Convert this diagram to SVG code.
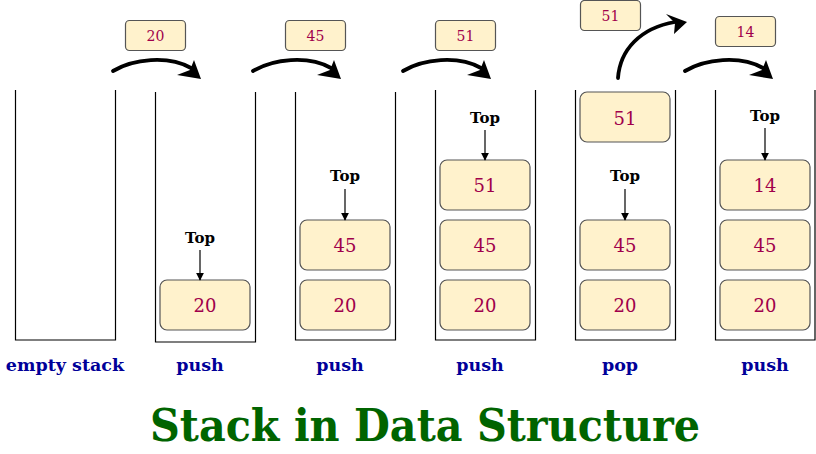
<svg xmlns="http://www.w3.org/2000/svg" width="816" height="454" viewBox="0 0 816 454">
<defs>
<style>
.wall{fill:none;stroke:#000;stroke-width:1.2}
.cell{fill:#fff2cc;stroke:#555;stroke-width:1.2}
.num{font-family:"DejaVu Serif","Liberation Serif",serif;font-size:18px;fill:#a0004b;text-anchor:middle}
.fnum{font-family:"DejaVu Serif","Liberation Serif",serif;font-size:14px;fill:#a0004b;text-anchor:middle}
.top{font-family:"DejaVu Serif","Liberation Serif",serif;font-size:15px;font-weight:bold;fill:#000;text-anchor:middle}
.op{font-family:"DejaVu Serif","Liberation Serif",serif;font-size:17.5px;font-weight:bold;fill:#000099;text-anchor:middle}
.title{font-family:"DejaVu Serif","Liberation Serif",serif;font-size:45px;font-weight:bold;fill:#006400;text-anchor:middle}
.ptr{stroke:#000;stroke-width:1.2;fill:none}
.brush{fill:none;stroke:#000;stroke-width:3.8;stroke-linecap:round}
</style>
<marker id="ah" viewBox="0 0 10 10" refX="9" refY="5" markerWidth="8" markerHeight="8" orient="auto" markerUnits="userSpaceOnUse">
<path d="M0,0 L10,5 L0,10 z" fill="#000"/>
</marker>
<g id="curve">
<path class="brush" d="M0,0 C20,-12 55,-16 78,-3"/>
<polygon points="81,-11 88,8 64,4 77,-1" fill="#000"/>
</g>
</defs>
<rect width="816" height="454" fill="#fff"/>

<g id="stack-empty">
<path class="wall" d="M15.5,90 V340 H115.5 V90"/>
<text class="op" x="65" y="371">empty stack</text>
</g>

<g id="stack-push-20">
<path class="wall" d="M155.5,92 V342 H255.5 V92"/>
<rect class="cell" x="160" y="280" width="90" height="50" rx="7"/>
<text class="num" x="205" y="312">20</text>
<text class="top" x="200" y="243">Top</text>
<line class="ptr" x1="200" y1="250" x2="200" y2="280" marker-end="url(#ah)"/>
<text class="op" x="200" y="371">push</text>
</g>

<g id="stack-push-45">
<path class="wall" d="M295.5,92 V340 H395.5 V92"/>
<rect class="cell" x="300" y="220" width="90" height="50" rx="7"/>
<text class="num" x="345" y="252">45</text>
<rect class="cell" x="300" y="280" width="90" height="50" rx="7"/>
<text class="num" x="345" y="312">20</text>
<text class="top" x="345" y="181">Top</text>
<line class="ptr" x1="345" y1="189" x2="345" y2="220" marker-end="url(#ah)"/>
<text class="op" x="340" y="371">push</text>
</g>

<g id="stack-push-51">
<path class="wall" d="M435.5,90 V340 H535.5 V90"/>
<rect class="cell" x="440" y="160" width="90" height="50" rx="7"/>
<text class="num" x="485" y="192">51</text>
<rect class="cell" x="440" y="220" width="90" height="50" rx="7"/>
<text class="num" x="485" y="252">45</text>
<rect class="cell" x="440" y="280" width="90" height="50" rx="7"/>
<text class="num" x="485" y="312">20</text>
<text class="top" x="485" y="123">Top</text>
<line class="ptr" x1="485" y1="130" x2="485" y2="160" marker-end="url(#ah)"/>
<text class="op" x="480" y="371">push</text>
</g>

<g id="stack-pop">
<path class="wall" d="M575.5,90 V340 H675.5 V90"/>
<rect class="cell" x="580" y="92" width="90" height="50" rx="7"/>
<text class="num" x="625" y="125">51</text>
<rect class="cell" x="580" y="220" width="90" height="50" rx="7"/>
<text class="num" x="625" y="252">45</text>
<rect class="cell" x="580" y="280" width="90" height="50" rx="7"/>
<text class="num" x="625" y="312">20</text>
<text class="top" x="625" y="181">Top</text>
<line class="ptr" x1="625" y1="189" x2="625" y2="220" marker-end="url(#ah)"/>
<text class="op" x="620" y="371">pop</text>
</g>

<g id="stack-push-14">
<path class="wall" d="M715.5,90 V340 H815 V90"/>
<rect class="cell" x="720" y="160" width="90" height="50" rx="7"/>
<text class="num" x="765" y="192">14</text>
<rect class="cell" x="720" y="220" width="90" height="50" rx="7"/>
<text class="num" x="765" y="252">45</text>
<rect class="cell" x="720" y="280" width="90" height="50" rx="7"/>
<text class="num" x="765" y="312">20</text>
<text class="top" x="765" y="121">Top</text>
<line class="ptr" x1="765" y1="128" x2="765" y2="160" marker-end="url(#ah)"/>
<text class="op" x="765" y="371">push</text>
</g>

<g id="item-20">
<rect class="cell" x="125.5" y="20.5" width="60" height="30" rx="4"/>
<text class="fnum" x="155.5" y="40.5">20</text>
</g>
<g id="item-45">
<rect class="cell" x="285.5" y="20.5" width="60" height="30" rx="4"/>
<text class="fnum" x="315.5" y="40.5">45</text>
</g>
<g id="item-51">
<rect class="cell" x="435.5" y="20.5" width="60" height="30" rx="4"/>
<text class="fnum" x="465.5" y="40.5">51</text>
</g>
<g id="item-51-popped">
<rect class="cell" x="580.5" y="0.5" width="60" height="30" rx="4"/>
<text class="fnum" x="610.5" y="20.5">51</text>
</g>
<g id="item-14">
<rect class="cell" x="715.5" y="16.5" width="60" height="30" rx="4"/>
<text class="fnum" x="745.5" y="36.5">14</text>
</g>

<g id="connectors">
<use href="#curve" x="113" y="71"/>
<use href="#curve" x="253" y="71"/>
<use href="#curve" x="403" y="71"/>
<use href="#curve" x="685" y="71"/>
<path class="brush" d="M618,78 C620,50 640,28 675,22"/>
<polygon points="666,14 687,22 674,34 675,23" fill="#000"/>
</g>

<text class="title" x="425" y="441" textLength="550" lengthAdjust="spacingAndGlyphs">Stack in Data Structure</text>
</svg>
